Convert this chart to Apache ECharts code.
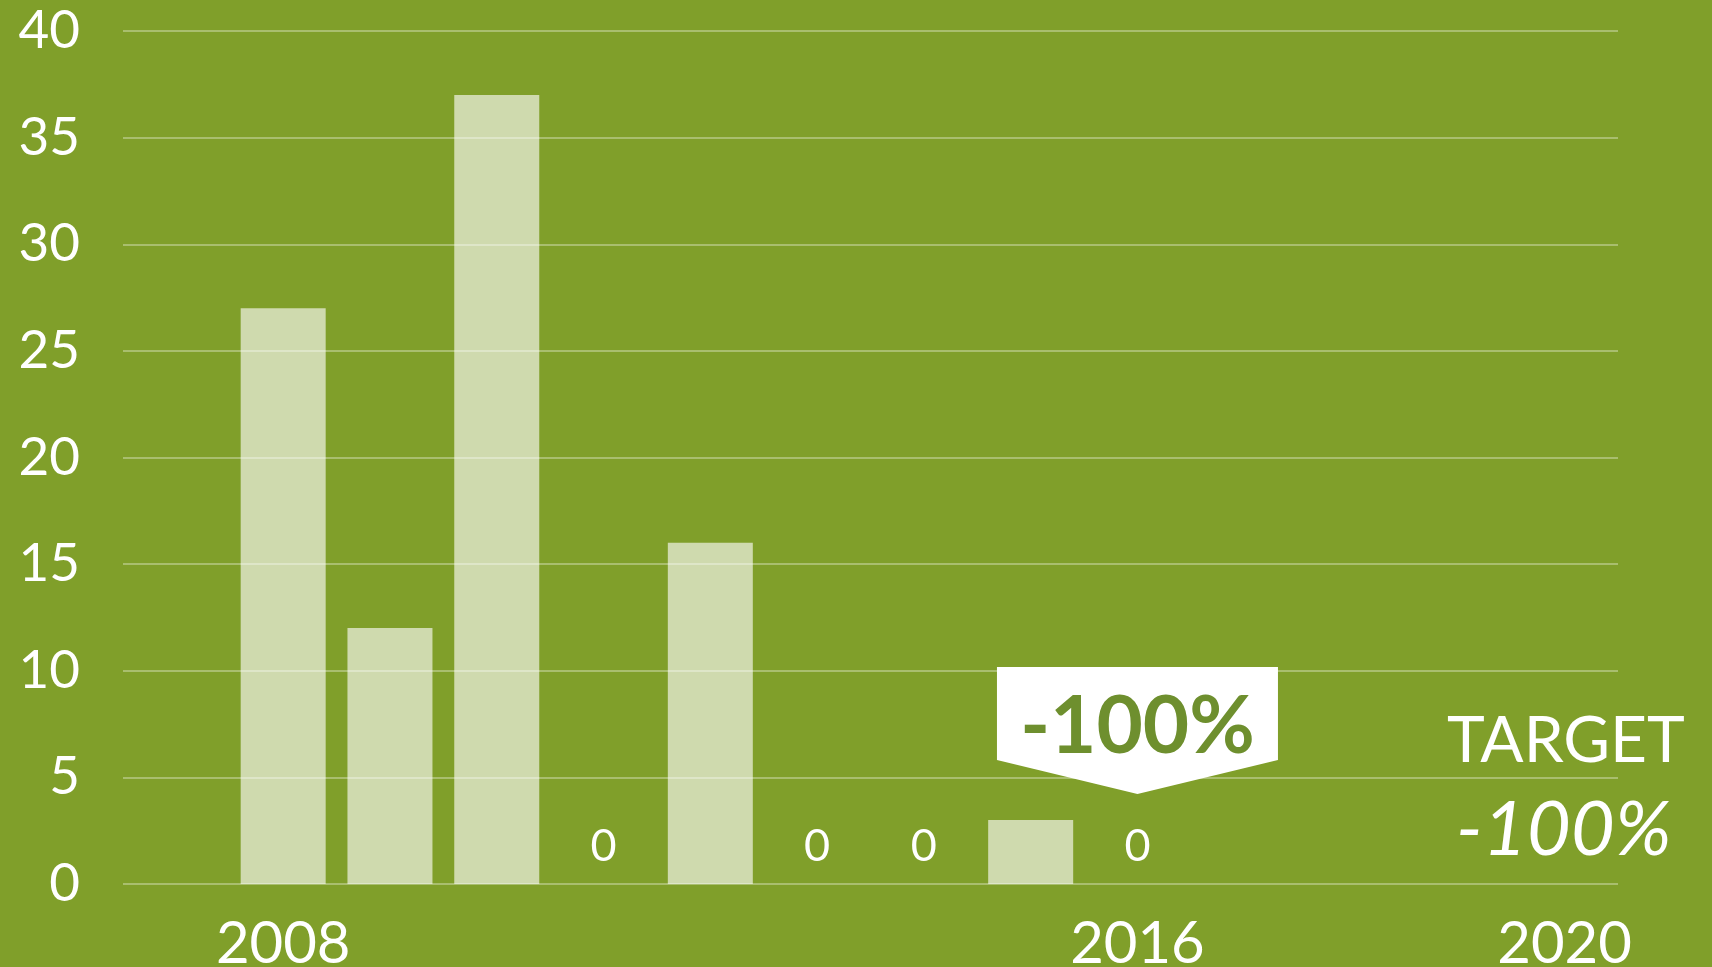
<!DOCTYPE html>
<html>
<head>
<meta charset="utf-8">
<title>Emissions to 2020</title>
<script src="https://cdn.jsdelivr.net/npm/echarts@6/dist/echarts.min.js"></script>
<style>
    html, body { margin: 0; padding: 0; background: #809f2a; }
    #chart { width: 1712px; height: 967px; }
</style>
</head>
<body>
<div id="chart"></div>
<script>
// 数据
const years = ['2007', '2008', '2009', '2010', '2011', '2012', '2013', '2014', '2015', '2016', '2017', '2018', '2019', '2020'];
const values = [null, 27, 12, 37, 0, 16, 0, 0, 3, 0, null, null, null, null];
const shownYears = ['2008', '2016', '2020'];
const calloutYear = '2016';
const calloutText = '-100%';
const targetLabel = 'TARGET';
const targetValue = '-100%';

document.addEventListener('DOMContentLoaded', function() {
    initializeChart();
});

function initializeChart() {
    const chart = echarts.init(document.getElementById('chart'));

    // 0 值只显示标签
    const barData = values.map(function(v) {
        if (v === 0) {
            return { value: 0, label: { show: true } };
        }
        return v;
    });

    const option = {
        backgroundColor: '#809f2a',
        textStyle: { fontFamily: 'Lato' },
        grid: {
            left: 123,
            right: 94,
            top: 31,
            bottom: 83,
            outerBoundsMode: 'none'
        },
        xAxis: {
            type: 'category',
            data: years,
            axisLine: { show: false },
            axisTick: { show: false },
            axisLabel: {
                color: '#ffffff',
                fontSize: 58,
                margin: 31,
                interval: 0,
                formatter: function(value) {
                    return shownYears.indexOf(value) >= 0 ? value : '';
                }
            }
        },
        yAxis: {
            type: 'value',
            min: 0,
            max: 40,
            interval: 5,
            axisLine: { show: false },
            axisTick: { show: false },
            axisLabel: {
                color: '#ffffff',
                fontSize: 53,
                margin: 43
            },
            splitLine: {
                lineStyle: {
                    color: 'rgba(255,255,255,0.32)',
                    width: 2
                }
            }
        },
        series: [
            {
                type: 'bar',
                data: barData,
                barWidth: 85,
                itemStyle: {
                    color: 'rgba(255,255,255,0.62)'
                },
                label: {
                    show: false,
                    position: 'top',
                    distance: 15,
                    color: '#ffffff',
                    fontSize: 45
                },
                markPoint: {
                    silent: true,
                    symbol: 'path://M0,0 L281,0 L281,93 L140.5,127 L0,93 Z',
                    symbolSize: [281, 127],
                    symbolKeepAspect: false,
                    itemStyle: { color: '#ffffff' },
                    label: {
                        show: true,
                        position: 'inside',
                        offset: [0, -3],
                        color: '#6e8f2e',
                        fontSize: 80,
                        fontWeight: 'bold',
                        formatter: calloutText
                    },
                    data: [
                        { coord: [calloutYear, 7.2] }
                    ]
                }
            }
        ],
        graphic: [
            {
                type: 'text',
                left: 1447,
                top: 709,
                style: {
                    text: targetLabel,
                    fill: '#ffffff',
                    font: '400 64px Lato'
                }
            },
            {
                type: 'text',
                left: 1456,
                top: 792,
                style: {
                    text: targetValue,
                    fill: '#ffffff',
                    font: 'italic 400 76px Lato'
                }
            }
        ]
    };

    chart.setOption(option);

    window.addEventListener('resize', function() {
        chart.resize();
    });
}
</script>
</body>
</html>
